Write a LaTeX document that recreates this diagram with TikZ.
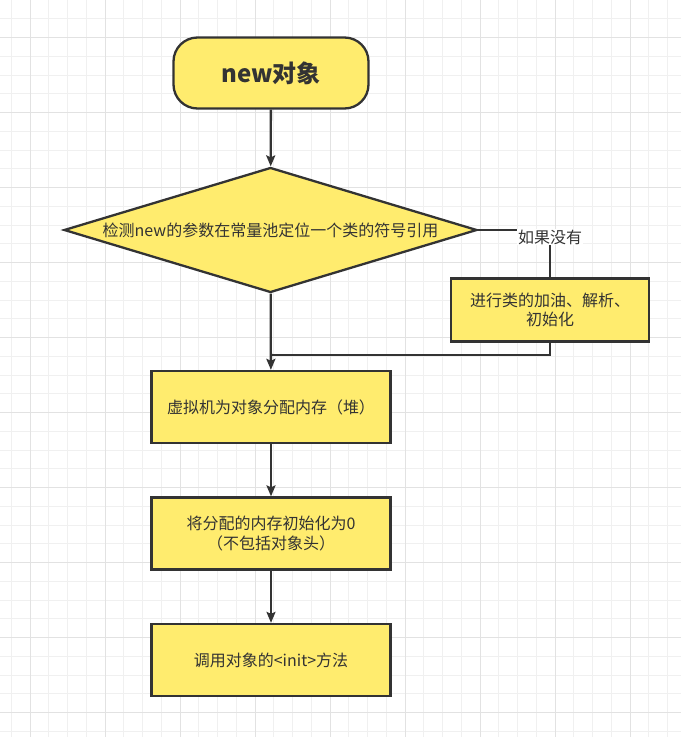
\documentclass[tikz,border=0pt]{standalone}
\usepackage{fontspec}
\setmainfont{Noto Sans CJK SC}
\usetikzlibrary{shapes.geometric,arrows.meta}
\definecolor{boxfill}{HTML}{FFEC6E}
\definecolor{ink}{HTML}{333333}
\definecolor{gridminor}{HTML}{F0F0F0}
\definecolor{gridmajor}{HTML}{E2E2E2}
\tikzset{
	box/.style={draw=ink,fill=boxfill,line width=2.3pt,text=ink,align=center,
		minimum width=239pt,minimum height=72pt,inner sep=2pt,
		font=\fontsize{16}{20}\selectfont},
	startbox/.style={box,rounded corners=24pt,minimum width=195pt,minimum height=71pt,
		font=\fontsize{24}{28}\selectfont\bfseries},
	decision/.style={box,diamond,aspect=3.3,inner sep=0pt,
		minimum width=413pt,minimum height=125pt},
	tag/.style={fill=white,text=ink,inner sep=1pt,font=\fontsize{16}{20}\selectfont},
	link/.style={draw=ink,line width=2.3pt},
	arrow/.style={link,-{Stealth[length=11pt,width=9pt,inset=2pt]}}
}
\begin{document}
\begin{tikzpicture}[x=1pt,y=-1pt]
	\useasboundingbox (0,0) rectangle (681,737);
	\fill[white] (0,0) rectangle (681,737);
	\foreach \gx in {11.25,30,...,681} \draw[gridminor,line width=1pt] (\gx,0) -- (\gx,737);
	\foreach \gy in {18.75,37.5,...,737} \draw[gridminor,line width=1pt] (0,\gy) -- (681,\gy);
	\foreach \gx in {30,105,...,681} \draw[gridmajor,line width=1pt] (\gx,0) -- (\gx,737);
	\foreach \gy in {37.5,112.5,...,737} \draw[gridmajor,line width=1pt] (0,\gy) -- (681,\gy);
	\node[startbox] (start) at (271,73) {new对象};
	\node[decision] (check) at (270.5,230) {检测new的参数在常量池定位一个类的符号引用};
	\node[box,minimum width=198pt,minimum height=63pt,font=\fontsize{16}{19}\selectfont] (load) at (550,310) {进行类的加油、解析、\\初始化};
	\node[box] (alloc) at (271,407) {虚拟机为对象分配内存（堆）};
	\node[box] (zero) at (271,533.5) {将分配的内存初始化为0\\（不包括对象头）};
	\node[box] (call) at (271,660) {调用对象的<init>方法};
	\coordinate (join) at (271,355);
	\draw[arrow] (start) -- (check);
	\draw[arrow] (check) -- (alloc);
	\draw[link] (check.east) -- (load.north |- check.east) -- (load.north);
	\node[tag] (missing) at (550,237) {如果没有};
	\draw[link] (load.south) |- (join);
	\draw[arrow] (alloc) -- (zero);
	\draw[arrow] (zero) -- (call);
\end{tikzpicture}
\end{document}
